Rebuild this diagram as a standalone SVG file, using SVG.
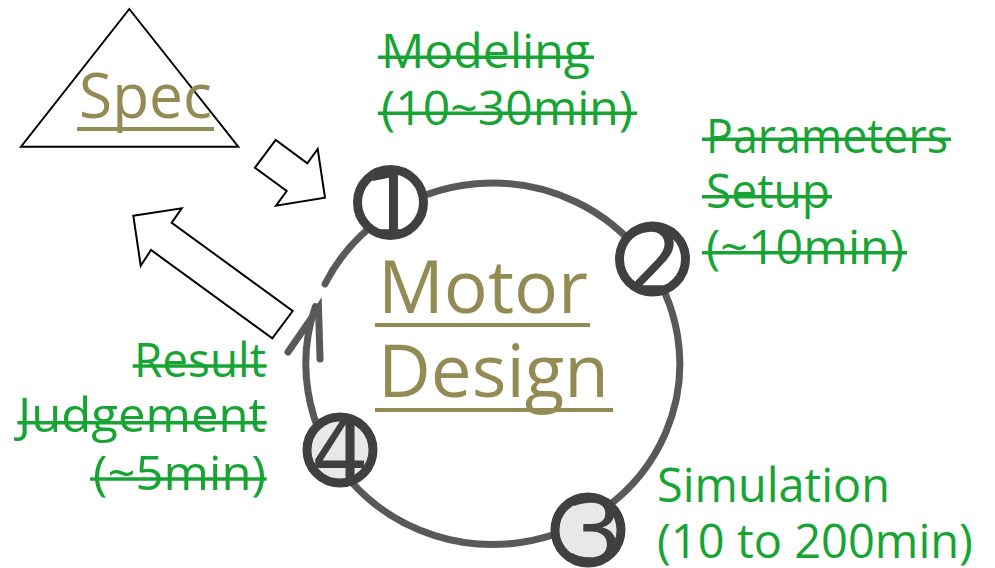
<svg xmlns="http://www.w3.org/2000/svg" width="995" height="568" viewBox="0 0 995 568">
  <style>
    .title { font-family: "Open Sans", "Noto Sans", "Liberation Sans", sans-serif; font-weight: 500; fill: #948A54; }
    .step { font-family: "Open Sans", "Noto Sans", "Liberation Sans", sans-serif; font-size: 47px; fill: #17A434; }
    .strike { stroke: #17A434; stroke-width: 3.5; }
    .uline { stroke: #948A54; stroke-width: 4; }
    .block { fill: #fff; stroke: #000; stroke-width: 2; stroke-linejoin: miter; }
    .ring { fill: none; stroke: #404040; stroke-width: 9; }
    .digit { font-family: "DejaVu Sans", "Liberation Sans", sans-serif; font-size: 92px; fill: #404040; text-anchor: middle; }
    .loop { fill: none; stroke: #595959; stroke-width: 7; stroke-linecap: round; }
  </style>
  <defs>
    <clipPath id="clip1"><circle cx="390.5" cy="202.5" r="36"/></clipPath>
    <clipPath id="clip2"><circle cx="652.5" cy="259" r="36"/></clipPath>
    <clipPath id="clip3"><circle cx="588" cy="530" r="36"/></clipPath>
    <clipPath id="clip4"><circle cx="340" cy="450" r="36"/></clipPath>
  </defs>

  <!-- Spec -->
  <g id="spec">
    <polygon class="block" points="129.3,9 21,146.7 238.3,146.7"/>
    <text class="title" x="79" y="118" font-size="63" textLength="133" lengthAdjust="spacingAndGlyphs">Spec</text>
    <line class="uline" x1="77" y1="129" x2="214" y2="129"/>
  </g>

  <!-- block arrows between Spec and the loop -->
  <g id="connectors">
    <polygon class="block" points="255,167.7 275.7,140 307.3,163.3 317.7,149 325,197.7 276,205.7 286.7,191"/>
    <polygon class="block" points="133.3,215.7 181.7,208.3 171.7,222.7 292.7,311 272.3,338.3 151,250 140.7,265.7"/>
    <!-- design loop -->
    <path class="loop" d="M325,284 A187,180.7 0 1 1 315.4,306.6"/>
    <path class="loop" d="M288,352 L318.5,308 L320,359" stroke-linejoin="miter" stroke-width="8"/>
  </g>

  <!-- centre title -->
  <g id="motor-design">
    <text class="title" x="378" y="312.7" font-size="73" textLength="210" lengthAdjust="spacingAndGlyphs">Motor</text>
    <line class="uline" x1="375" y1="325" x2="590" y2="325"/>
    <text class="title" x="378" y="396.7" font-size="73" textLength="231" lengthAdjust="spacingAndGlyphs">Design</text>
    <line class="uline" x1="375" y1="410" x2="613" y2="410"/>
  </g>

  <!-- step markers -->
  <g id="step1">
    <circle cx="390.5" cy="202.5" r="33" fill="#fff"/>
    <text class="digit" x="392" y="237" clip-path="url(#clip1)">1</text>
    <circle class="ring" cx="390.5" cy="202.5" r="33"/>
  </g>
  <g id="step2">
    <circle cx="652.5" cy="259" r="33" fill="#fff"/>
    <text class="digit" x="654" y="293" clip-path="url(#clip2)">2</text>
    <circle class="ring" cx="652.5" cy="259" r="33"/>
  </g>
  <g id="step3">
    <circle cx="588" cy="530" r="33" fill="#e8e8e8"/>
    <text class="digit" x="594" y="564" clip-path="url(#clip3)">3</text>
    <circle class="ring" cx="588" cy="530" r="33"/>
  </g>
  <g id="step4">
    <circle cx="340" cy="450" r="33" fill="#e8e8e8"/>
    <text class="digit" x="340" y="484" clip-path="url(#clip4)">4</text>
    <circle class="ring" cx="340" cy="450" r="33"/>
  </g>

  <!-- step labels -->
  <g id="label-modeling">
    <text class="step" x="381" y="68" textLength="209" lengthAdjust="spacingAndGlyphs">Modeling</text>
    <text class="step" x="381" y="125" textLength="252" lengthAdjust="spacingAndGlyphs">(10~30min)</text>
    <line class="strike" x1="378" y1="57.3" x2="594" y2="57.3"/>
    <line class="strike" x1="378" y1="113.3" x2="637" y2="113.3"/>
  </g>
  <g id="label-parameters">
    <text class="step" x="706" y="152.7" textLength="242" lengthAdjust="spacingAndGlyphs">Parameters</text>
    <text class="step" x="706" y="208.3" textLength="124" lengthAdjust="spacingAndGlyphs">Setup</text>
    <text class="step" x="706" y="264" textLength="198" lengthAdjust="spacingAndGlyphs">(~10min)</text>
    <line class="strike" x1="702" y1="139.3" x2="951" y2="139.3"/>
    <line class="strike" x1="702" y1="196.7" x2="832" y2="196.7"/>
    <line class="strike" x1="702" y1="252.7" x2="907" y2="252.7"/>
  </g>
  <g id="label-simulation">
    <text class="step" x="657" y="501.7" textLength="233" lengthAdjust="spacingAndGlyphs">Simulation</text>
    <text class="step" x="657" y="558.3" textLength="316" lengthAdjust="spacingAndGlyphs">(10 to 200min)</text>
  </g>
  <g id="label-judgement">
    <text class="step" x="266" y="376.7" text-anchor="end" textLength="132" lengthAdjust="spacingAndGlyphs">Result</text>
    <text class="step" x="266" y="431.7" text-anchor="end" textLength="248" lengthAdjust="spacingAndGlyphs">Judgement</text>
    <text class="step" x="266" y="490" text-anchor="end" textLength="173" lengthAdjust="spacingAndGlyphs">(~5min)</text>
    <line class="strike" x1="132.7" y1="366" x2="266.7" y2="366"/>
    <line class="strike" x1="17.3" y1="422.7" x2="266.7" y2="422.7"/>
    <line class="strike" x1="90" y1="479" x2="266.7" y2="479"/>
  </g>
</svg>
